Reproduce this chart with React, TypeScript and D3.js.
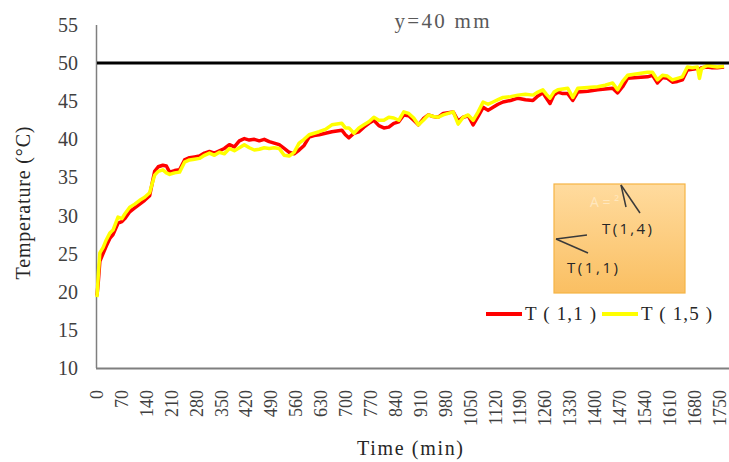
import React from "react";
import * as d3 from "d3";

const W = 729;
const H = 462;

const times = [0, 4, 8, 17, 26, 36, 45, 59, 70, 78, 92, 106, 120, 134, 148, 154, 162, 172, 185, 195, 204, 218, 232, 246, 260, 274, 288, 302, 316, 330, 344, 358, 372, 386, 400, 414, 428, 442, 456, 470, 484, 498, 512, 526, 540, 554, 568, 582, 596, 610, 624, 642, 660, 674, 688, 698, 708, 722, 736, 750, 764, 778, 792, 806, 820, 834, 848, 862, 876, 890, 903, 917, 931, 945, 959, 973, 987, 1001, 1015, 1029, 1043, 1057, 1071, 1085, 1099, 1113, 1127, 1141, 1162, 1183, 1204, 1225, 1239, 1253, 1263, 1273, 1284, 1295, 1309, 1323, 1337, 1351, 1379, 1407, 1428, 1449, 1463, 1477, 1491, 1519, 1547, 1561, 1575, 1589, 1603, 1617, 1631, 1645, 1659, 1673, 1687, 1693, 1699, 1715, 1729, 1743, 1762];

const t15 = [19.3, 22.5, 25.1, 25.8, 26.8, 27.7, 28.1, 29.8, 29.6, 30.2, 31.1, 31.5, 32.0, 32.4, 33.0, 34.0, 35.3, 35.8, 36.0, 35.6, 35.4, 35.6, 35.7, 37.0, 37.3, 37.4, 37.5, 37.9, 38.2, 37.9, 38.3, 38.1, 38.8, 38.5, 38.9, 39.3, 38.9, 38.6, 38.7, 38.9, 38.8, 38.9, 38.8, 37.9, 37.8, 38.3, 39.5, 40.0, 40.6, 40.8, 41.0, 41.3, 41.9, 42.0, 42.1, 41.5, 41.5, 40.8, 41.5, 41.9, 42.3, 42.9, 42.5, 42.5, 42.9, 42.8, 42.5, 43.6, 43.4, 42.8, 41.9, 42.5, 43.2, 43.0, 42.9, 43.2, 43.4, 43.6, 42.0, 42.9, 43.2, 42.5, 43.6, 44.9, 44.6, 44.9, 45.2, 45.5, 45.6, 45.8, 45.9, 45.8, 46.2, 46.5, 45.9, 45.4, 46.2, 46.5, 46.6, 46.7, 45.5, 46.7, 46.8, 46.9, 47.1, 47.4, 46.5, 47.6, 48.4, 48.6, 48.8, 48.8, 47.8, 48.4, 48.3, 47.8, 48.0, 48.2, 49.5, 49.4, 49.5, 48.0, 49.3, 49.7, 49.6, 49.5, 49.6];

const t11 = [19.5, 21.5, 24.0, 25.0, 26.0, 27.0, 27.5, 29.0, 29.2, 29.6, 30.5, 31.0, 31.5, 32.0, 32.6, 34.0, 35.8, 36.4, 36.6, 36.5, 35.7, 35.9, 36.0, 37.3, 37.6, 37.7, 37.8, 38.2, 38.4, 38.2, 38.5, 38.8, 39.3, 39.0, 39.8, 40.1, 39.9, 40.0, 39.8, 40.0, 39.7, 39.5, 39.3, 38.8, 38.3, 38.1, 38.6, 39.2, 40.3, 40.5, 40.6, 40.8, 41.0, 41.1, 41.2, 40.6, 40.2, 40.8, 41.0, 41.6, 42.1, 42.5, 41.8, 41.5, 41.6, 42.1, 42.3, 43.2, 43.1, 42.5, 41.9, 42.7, 43.2, 43.0, 42.9, 43.4, 43.5, 43.6, 42.4, 42.9, 43.1, 41.9, 43.0, 44.2, 43.8, 44.2, 44.6, 44.9, 45.1, 45.4, 45.2, 45.1, 45.7, 46.1, 45.4, 44.7, 45.8, 46.2, 46.0, 46.0, 45.1, 46.2, 46.3, 46.5, 46.6, 46.7, 46.1, 46.9, 48.0, 48.1, 48.2, 48.4, 47.4, 48.1, 48.0, 47.5, 47.6, 47.8, 49.1, 49.2, 49.3, 49.2, 49.4, 49.5, 49.4, 49.4, 49.5];

const yTicks = [10, 15, 20, 25, 30, 35, 40, 45, 50, 55];
const xTicks = d3.range(0, 1751, 70);
const limitValue = 50;
const seriesNames = ["T ( 1,1 )", "T ( 1,5 )"];
const seriesColors = ["#FF0000", "#FFFF00"];

export default function App() {
  const x = d3.scaleLinear().domain([0, 1776]).range([97, 729]);
  const y = d3.scaleLinear().domain([10, 55]).range([368, 25]);
  const line = d3
    .line<number>()
    .x((_, i) => x(times[i]))
    .y((d) => y(d));

  const serif = "'Liberation Serif', 'Times New Roman', serif";
  const sans = "'Open Sans', 'Liberation Sans', sans-serif";

  return (
    <svg
      width={W}
      height={H}
      style={{ position: "absolute", left: 0, top: 0, background: "#fff" }}
    >
      <defs>
        <linearGradient id="boxg" x1="0" y1="0" x2="0" y2="1">
          <stop offset="0" stopColor="#FFDB9E" />
          <stop offset="1" stopColor="#FABF62" />
        </linearGradient>
      </defs>

      {/* title */}
      <text x={442} y={28} fontFamily={serif} fontSize={21} fill="#595959" textAnchor="middle" textLength={95} lengthAdjust="spacing">
        y=40 mm
      </text>

      {/* axes */}
      <line x1={96.5} x2={96.5} y1={y(55)} y2={y(10)} stroke="#7f7f7f" strokeWidth={1.5} />
      <line x1={96} x2={729} y1={368.5} y2={368.5} stroke="#7f7f7f" strokeWidth={2} />

      {/* y tick labels */}
      {yTicks.map((v) => (
        <text key={v} x={78} y={y(v)} fontFamily={serif} fontSize={20} fill="#404040" textAnchor="end" dominantBaseline="central">
          {v}
        </text>
      ))}

      {/* x tick labels */}
      {xTicks.map((v) => (
        <text
          key={v}
          transform={`translate(${x(v)},390) rotate(-90)`}
          fontFamily={serif}
          fontSize={18}
          fill="#404040"
          textAnchor="end"
          dominantBaseline="central"
        >
          {v}
        </text>
      ))}

      {/* axis titles */}
      <text x={410} y={455} fontFamily={serif} fontSize={20} fill="#262626" textAnchor="middle" textLength={106} lengthAdjust="spacing">
        Time  (min)
      </text>
      <text
        transform="translate(23,203) rotate(-90)"
        fontFamily={serif}
        fontSize={20}
        fill="#262626"
        textAnchor="middle"
        dominantBaseline="central"
        textLength={153}
        lengthAdjust="spacing"
      >
        Temperature  (°C)
      </text>

      {/* series */}
      <path d={line(t11) || ""} fill="none" stroke={seriesColors[0]} strokeWidth={3.5} strokeLinejoin="round" />
      <path d={line(t15) || ""} fill="none" stroke={seriesColors[1]} strokeWidth={3.5} strokeLinejoin="round" />

      {/* limit line */}
      <line x1={97} x2={729} y1={y(limitValue)} y2={y(limitValue)} stroke="#000" strokeWidth={3} />

      {/* orange inset box */}
      <rect x={554} y={184} width={131} height={109} fill="url(#boxg)" stroke="#F5B445" strokeWidth={1.2} />
      <text x={590} y={207} fontFamily={sans} fontSize={14} fill="#FFE7BE">A =         ²</text>
      <line x1={621} y1={185} x2={626} y2={207} stroke="#3a3a3a" strokeWidth={1.5} />
      <line x1={621} y1={185} x2={640} y2={213} stroke="#3a3a3a" strokeWidth={1.5} />
      <line x1={556} y1={239} x2={587} y2={235} stroke="#3a3a3a" strokeWidth={1.5} />
      <line x1={556} y1={239} x2={588} y2={253} stroke="#3a3a3a" strokeWidth={1.5} />
      <text x={602} y={234} fontFamily={sans} fontSize={15} fill="#262626" textLength={50} lengthAdjust="spacing">
        T(1,4)
      </text>
      <text x={567} y={273} fontFamily={sans} fontSize={15} fill="#262626" textLength={51} lengthAdjust="spacing">
        T(1,1)
      </text>

      {/* legend */}
      <line x1={486} x2={522} y1={314} y2={314} stroke={seriesColors[0]} strokeWidth={4} />
      <text x={525} y={320} fontFamily={serif} fontSize={19} fill="#262626" textLength={71} lengthAdjust="spacing">
        {seriesNames[0]}
      </text>
      <line x1={602} x2={638} y1={314} y2={314} stroke={seriesColors[1]} strokeWidth={4} />
      <text x={641} y={320} fontFamily={serif} fontSize={19} fill="#262626" textLength={71} lengthAdjust="spacing">
        {seriesNames[1]}
      </text>
    </svg>
  );
}
